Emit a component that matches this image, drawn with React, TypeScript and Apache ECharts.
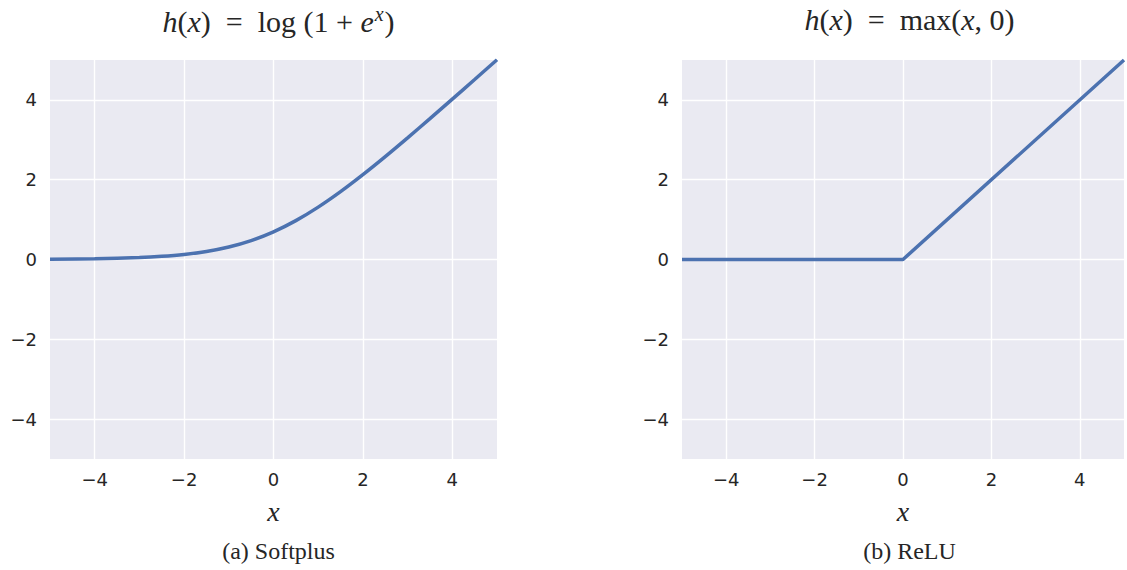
import React, { useEffect, useRef } from "react";
import * as echarts from "echarts";

const xTicks = [-4, -2, 0, 2, 4];
const yTicks = [-4, -2, 0, 2, 4];
const softplusX = [-5, -4, -3, -2.5, -2, -1.5, -1, -0.5, 0, 0.5, 1, 1.5, 2, 2.5, 3, 3.5, 4, 4.5, 5];
const softplusY = [0.007, 0.018, 0.049, 0.079, 0.127, 0.201, 0.313, 0.474, 0.693, 0.974, 1.313, 1.701, 2.127, 2.579, 3.049, 3.53, 4.018, 4.511, 5.007];
const reluX = [-5, 0, 5];
const reluY = [0, 0, 5];
const titles = ["softplus", "relu"];
const captions = ["(a) Softplus", "(b) ReLU"];

const BG = "#EAEAF2";
const LINE = "#4C72B0";
const TXT = "#262626";
const SERIF = "'Liberation Serif', 'DejaVu Serif', serif";
const SANS = "'DejaVu Sans', sans-serif";

const fmt = (v: number) => (v < 0 ? "\u2212" + Math.abs(v) : String(v));

export default function App() {
  const ref = useRef<HTMLDivElement>(null);
  useEffect(() => {
    if (!ref.current) return;
    const chart = echarts.init(ref.current, null, { renderer: "svg" });
    const grids = [
      { left: 50, top: 60, width: 447, height: 399 },
      { left: 682, top: 60, width: 445, height: 399 },
    ];
    const rich = {
      i: { fontFamily: SERIF, fontStyle: "italic", fontWeight: "normal", fontSize: 30, color: TXT },
      n: { fontFamily: SERIF, fontWeight: "normal", fontSize: 30, color: TXT },
      s: { fontFamily: SERIF, fontStyle: "italic", fontWeight: "normal", fontSize: 20, color: TXT, verticalAlign: "top", padding: [0, 1, 14, 1] },
    };
    const titleTexts = [
      "{i|h}{n|(}{i|x}{n|)  =  log (1 + }{i|e}{s|x}{n|)}",
      "{i|h}{n|(}{i|x}{n|)  =  max(}{i|x}{n|, 0)}",
    ];
    const gridLines = (k: number) => ({
      name: "grid" + k,
      type: "line",
      xAxisIndex: k,
      yAxisIndex: k,
      data: [],
      silent: true,
      z: 1,
      markLine: {
        silent: true,
        symbol: ["none", "none"],
        label: { show: false },
        lineStyle: { color: "#ffffff", width: 1.4, type: "solid" },
        data: [
          ...xTicks.map((v) => ({ xAxis: v })),
          ...yTicks.map((v) => ({ yAxis: v })),
        ],
      },
    });
    const option: any = {
      animation: false,
      backgroundColor: "#ffffff",
      title: [0, 1].map((k) => ({
        text: titleTexts[k],
        left: grids[k].left + grids[k].width / 2,
        top: -1,
        textAlign: "center",
        textStyle: { rich, fontWeight: "normal" },
      })).concat([0, 1].map((k) => ({
        text: captions[k],
        left: grids[k].left + grids[k].width / 2,
        top: 534,
        textAlign: "center",
        textStyle: { fontFamily: SERIF, fontSize: 24, fontWeight: "normal", color: TXT },
      })) as any),
      grid: grids.map((g) => ({ ...g, backgroundColor: BG, show: true, borderWidth: 0 })),
      xAxis: [0, 1].map((k) => ({
        type: "value",
        gridIndex: k,
        min: -5,
        max: 5,
        interval: 1,
        name: "x",
        nameLocation: "middle",
        nameGap: 38,
        nameTextStyle: { fontFamily: SERIF, fontStyle: "italic", fontSize: 28, color: TXT },
        axisLine: { show: false },
        axisTick: { show: false },
        splitLine: { show: false },
        axisLabel: {
          margin: 11,
          fontFamily: SANS,
          fontSize: 18,
          color: TXT,
          formatter: (v: number) => (xTicks.includes(v) ? fmt(v) : ""),
        },
      })),
      yAxis: [0, 1].map((k) => ({
        type: "value",
        gridIndex: k,
        min: -5,
        max: 5,
        interval: 1,
        axisLine: { show: false },
        axisTick: { show: false },
        splitLine: { show: false },
        axisLabel: {
          margin: 13,
          fontFamily: SANS,
          fontSize: 18,
          color: TXT,
          formatter: (v: number) => (yTicks.includes(v) ? fmt(v) : ""),
        },
      })),
      series: [
        gridLines(0),
        gridLines(1),
        {
          name: titles[0],
          type: "line",
          xAxisIndex: 0,
          yAxisIndex: 0,
          z: 5,
          data: softplusX.map((x, i) => [x, softplusY[i]]),
          smooth: 0.35,
          showSymbol: false,
          lineStyle: { color: LINE, width: 3.5 },
          clip: true,
        },
        {
          name: titles[1],
          type: "line",
          xAxisIndex: 1,
          yAxisIndex: 1,
          z: 5,
          data: reluX.map((x, i) => [x, reluY[i]]),
          showSymbol: false,
          lineStyle: { color: LINE, width: 3.5 },
          clip: true,
        },
      ],
    };
    chart.setOption(option);
    return () => chart.dispose();
  }, []);
  return (
    <div
      ref={ref}
      style={{ position: "fixed", left: 0, top: 0, width: 1127, height: 570 }}
    />
  );
}
